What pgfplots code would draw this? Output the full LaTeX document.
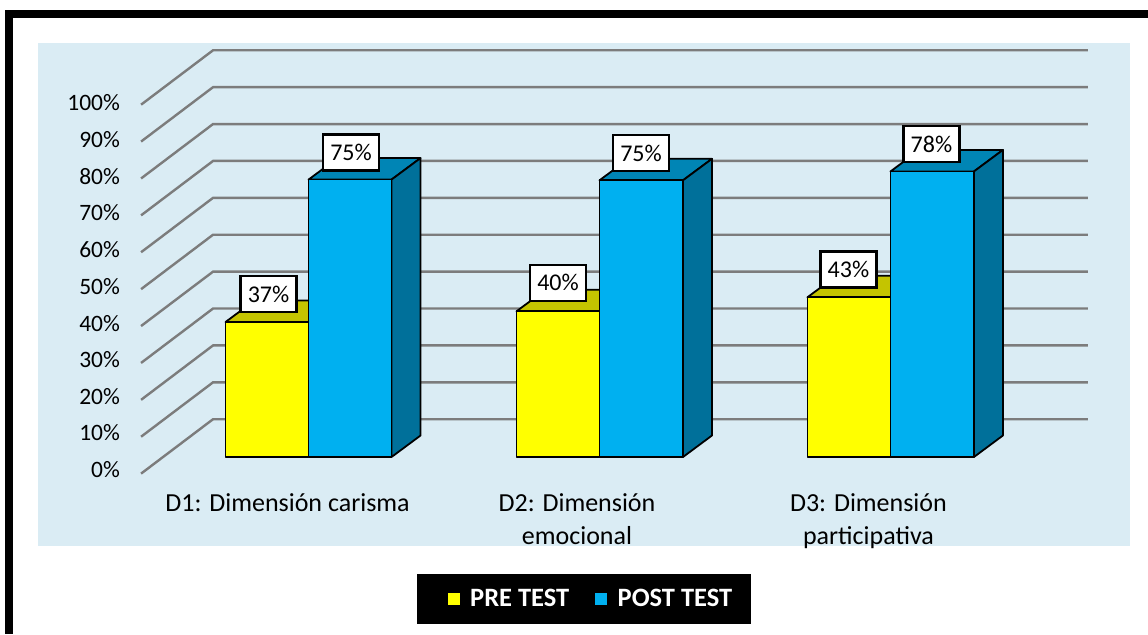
\documentclass[border=0pt]{standalone}
\usepackage{pgfplots}
\pgfplotsset{compat=1.18}
\usepackage{fontspec}
\setmainfont{Carlito}
\definecolor{panel}{HTML}{DAECF4}
\definecolor{gridc}{HTML}{7C7C7C}
\definecolor{preF}{HTML}{FFFF00}
\definecolor{preT}{HTML}{C4C400}
\definecolor{postF}{HTML}{00B0F0}
\definecolor{postT}{HTML}{0085B5}
\definecolor{postS}{HTML}{00709A}
% x is in picture units, y in percent of the bars (0 = bar base)
\newcommand{\gline}[2]{\addplot[gridc,line width=2.4pt,forget plot] coordinates {(141,#1)(213,#2)(1088,#2)};}
\tikzset{barline/.style={draw=black,line width=1.8pt,line join=round}}
\newcommand{\bartop}[4]{% x0 x1 value colour
  \pgfmathsetmacro{\xa}{#1+29}\pgfmathsetmacro{\xb}{#2+29}\pgfmathsetmacro{\vb}{#3+5.83}
  \addplot[fill=#4,barline,forget plot] coordinates {(#1,#3)(\xa,\vb)(\xb,\vb)(#2,#3)} --cycle;}
\newcommand{\barside}[3]{% x1 value colour
  \pgfmathsetmacro{\xb}{#1+29}\pgfmathsetmacro{\vb}{#2+5.83}
  \addplot[fill=#3,barline,forget plot] coordinates {(#1,0)(\xb,5.83)(\xb,\vb)(#1,#2)} --cycle;}
\newcommand{\barfront}[4]{%
  \addplot[fill=#4,barline,forget plot] coordinates {(#1,0)(#2,0)(#2,#3)(#1,#3)} --cycle;}
\begin{document}
\begin{tikzpicture}
\begin{axis}[
  scale only axis, width=1148pt, height=634pt,
  xmin=0, xmax=1148, ymin=-47.967, ymax=123.848,
  axis on top,
  axis line style={draw=none}, major tick length=0pt,
  ytick={-3.44,6.5,16.45,26.4,36.3,46.3,56.2,66.2,76.1,86.0,96.0},
  yticklabels={0\%,10\%,20\%,30\%,40\%,50\%,60\%,70\%,80\%,90\%,100\%},
  yticklabel style={font=\fontsize{23.5}{28}\selectfont,anchor=east,xshift=120pt,inner sep=0pt,text=black},
  xtick={287.5,577,868.5},
  xticklabels={D1: Dimensión carisma,D2: Dimensión\\emocional,D3: Dimensión\\participativa},
  xticklabel style={font=\fontsize{26}{33}\selectfont,anchor=north,align=center,yshift=140.3pt,inner sep=0pt,text=black},
  legend image code/.code={\path (-14pt,0pt); \fill[#1] (0pt,-7pt) rectangle (13pt,6pt);},
  legend style={at={(axis cs:583.5,-38.4)},anchor=center,fill=black,draw=black,text=white,
    font=\fontsize{26.5}{30}\selectfont\bfseries,legend columns=2,inner xsep=15.5pt,inner ysep=13pt,
    /tikz/every odd column/.append style={column sep=8pt},
    /tikz/every even column/.append style={column sep=9pt}},
  legend cell align=left,
]
% panel and frame
\addplot[fill=panel,draw=none,forget plot] coordinates {(38,112.2)(1130,112.2)(1130,-24.12)(38,-24.12)} --cycle;
\addplot[fill=black,draw=none,forget plot] coordinates {(5,121.14)(1148,121.14)(1148,118.97)(5,118.97)} --cycle;
\addplot[fill=black,draw=none,forget plot] coordinates {(5,121.14)(13,121.14)(13,-47.967)(5,-47.967)} --cycle;
% walls and gridlines
\gline{-4.5}{10.25}
\gline{5.5}{20.25}
\gline{15.5}{30.25}
\gline{25.5}{40.25}
\gline{35.5}{50.25}
\gline{45.5}{60.25}
\gline{55.5}{70.25}
\gline{65.5}{80.25}
\gline{75.5}{90.25}
\gline{85.5}{100.25}
\gline{95.5}{110.25}
% D1
\bartop{225.5}{308.5}{36.6}{preT}
\barfront{225.5}{308.5}{36.6}{preF}
\bartop{308.5}{391.5}{75.2}{postT}
\barside{391.5}{75.2}{postS}
\barfront{308.5}{391.5}{75.2}{postF}
% D2
\bartop{516.5}{599.5}{39.5}{preT}
\barfront{516.5}{599.5}{39.5}{preF}
\bartop{599.5}{683}{75}{postT}
\barside{683}{75}{postS}
\barfront{599.5}{683}{75}{postF}
% D3
\bartop{807.5}{890.5}{43.3}{preT}
\barfront{807.5}{890.5}{43.3}{preF}
\bartop{890.5}{974}{77.4}{postT}
\barside{974}{77.4}{postS}
\barfront{890.5}{974}{77.4}{postF}
% data labels
\tikzset{dl/.style={draw=black,fill=white,line width=2.6pt,minimum width=56pt,minimum height=36pt,inner sep=0pt,font=\fontsize{24}{28}\selectfont,text=black}}
\node[dl] at (axis cs:268.5,44.2) {37\%};
\node[dl] at (axis cs:351,82.6) {75\%};
\node[dl] at (axis cs:558,47.2) {40\%};
\node[dl] at (axis cs:641,82.4) {75\%};
\node[dl] at (axis cs:848.5,50.9) {43\%};
\node[dl] at (axis cs:931.5,84.8) {78\%};
% legend
\addlegendimage{fill=preF}
\addlegendentry{PRE TEST}
\addlegendimage{fill=postF}
\addlegendentry{POST TEST}
\end{axis}
\end{tikzpicture}
\end{document}
